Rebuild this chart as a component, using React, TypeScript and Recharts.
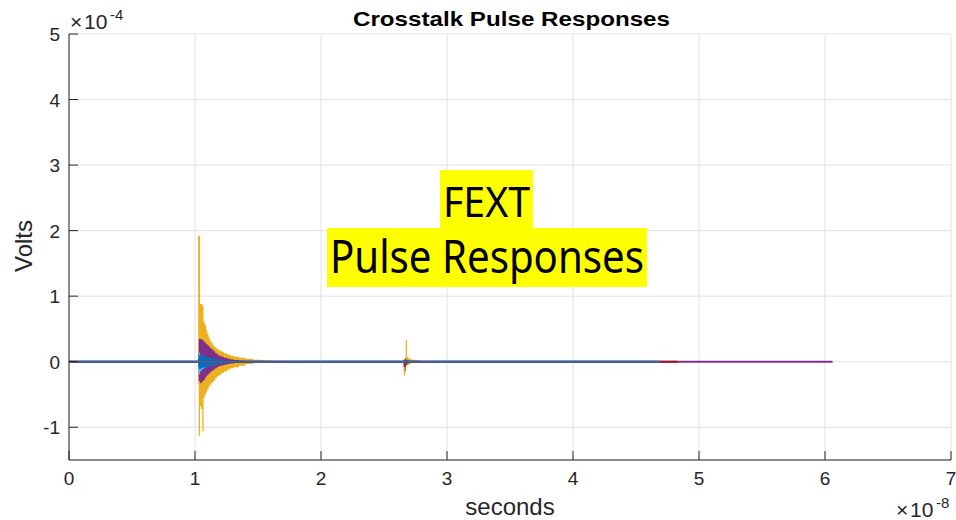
import React from 'react'
import { ComposedChart, Area, Line, XAxis, YAxis, CartesianGrid } from 'recharts'

// time in units of 1e-8 s, volts in units of 1e-4 V
const xTicks = [0, 1, 2, 3, 4, 5, 6, 7]
const yTicks = [-1, 0, 1, 2, 3, 4, 5]

// first FEXT pulse (around 1.03e-8 s)
const pulse1Times = [1.02, 1.025, 1.03, 1.04, 1.048, 1.058, 1.068, 1.078, 1.088, 1.098, 1.108, 1.118, 1.13, 1.145, 1.16, 1.175, 1.19, 1.21, 1.23, 1.255, 1.28, 1.31, 1.35, 1.4, 1.46, 1.53, 1.62, 1.72]
const p1YellowHi = [0, 1.92, 1.92, 0.88, 0.88, 0.85, 0.6, 0.56, 0.48, 0.42, 0.37, 0.32, 0.28, 0.24, 0.21, 0.19, 0.17, 0.15, 0.13, 0.11, 0.09, 0.075, 0.06, 0.045, 0.03, 0.018, 0.008, 0]
const p1YellowLo = [0, -0.35, -1.13, -0.68, -0.72, -1.06, -0.55, -0.5, -0.46, -0.42, -0.38, -0.35, -0.32, -0.29, -0.25, -0.22, -0.2, -0.17, -0.15, -0.12, -0.1, -0.085, -0.06, -0.035, -0.02, -0.01, -0.004, 0]
const p1PurpleHi = [0, 0.12, 0.35, 0.35, 0.34, 0.33, 0.31, 0.29, 0.27, 0.25, 0.23, 0.21, 0.19, 0.16, 0.13, 0.11, 0.09, 0.075, 0.06, 0.045, 0.035, 0.025, 0.016, 0.01, 0.006, 0.003, 0, 0]
const p1PurpleLo = [0, -0.1, -0.3, -0.33, -0.32, -0.3, -0.28, -0.25, -0.22, -0.2, -0.18, -0.16, -0.14, -0.12, -0.1, -0.08, -0.065, -0.055, -0.045, -0.035, -0.026, -0.018, -0.012, -0.007, -0.004, -0.002, 0, 0]
const p1CyanHi = [0, 0.08, 0.14, 0.1, 0.09, 0.08, 0.07, 0.065, 0.06, 0.055, 0.05, 0.045, 0.04, 0.035, 0.03, 0.025, 0.02, 0.016, 0.012, 0.009, 0.006, 0.004, 0.002, 0, 0, 0, 0, 0]
const p1CyanLo = [0, -0.12, -0.19, -0.15, -0.13, -0.11, -0.1, -0.09, -0.08, -0.07, -0.065, -0.06, -0.05, -0.045, -0.04, -0.033, -0.027, -0.02, -0.015, -0.011, -0.008, -0.005, -0.003, 0, 0, 0, 0, 0]
const p1BlueHi = [0, 0.06, 0.1, 0.1, 0.09, 0.085, 0.08, 0.075, 0.07, 0.065, 0.06, 0.055, 0.05, 0.045, 0.04, 0.035, 0.03, 0.025, 0.02, 0.016, 0.012, 0.009, 0.006, 0.004, 0.002, 0, 0, 0]
const p1BlueLo = [0, -0.07, -0.11, -0.11, -0.1, -0.095, -0.09, -0.085, -0.08, -0.072, -0.065, -0.06, -0.055, -0.05, -0.044, -0.038, -0.032, -0.027, -0.022, -0.017, -0.013, -0.01, -0.007, -0.004, -0.002, 0, 0, 0]

// second, smaller pulse (around 2.67e-8 s)
const pulse2Times = [2.65, 2.656, 2.666, 2.672, 2.683, 2.695, 2.71, 2.73, 2.76, 2.8, 2.86, 2.95]
const p2YellowHi = [0, 0.03, 0.06, 0.33, 0.07, 0.045, 0.035, 0.025, 0.018, 0.01, 0.005, 0]
const p2YellowLo = [0, -0.21, -0.1, -0.06, -0.06, -0.035, -0.025, -0.018, -0.012, -0.008, -0.003, 0]
const p2RedHi = [0, 0.02, 0.04, 0.03, 0.02, 0.015, 0.01, 0.008, 0.006, 0.004, 0, 0]
const p2RedLo = [0, -0.08, -0.15, -0.05, -0.03, -0.015, -0.01, -0.008, -0.006, -0.004, 0, 0]
const p2PurpleHi = [0, 0.03, 0.05, 0.03, 0.015, 0.01, 0.006, 0.004, 0, 0, 0, 0]
const p2PurpleLo = [0, -0.05, -0.07, -0.04, -0.02, -0.01, -0.006, -0.004, 0, 0, 0, 0]
const p2BlueHi = [0, 0.02, 0.03, 0.02, 0.015, 0.01, 0.006, 0, 0, 0, 0, 0]
const p2BlueLo = [0, -0.02, -0.03, -0.02, -0.015, -0.01, -0.006, 0, 0, 0, 0, 0]

// where the flat traces stop
const blueEnd = 4.69
const redEnd = 4.83
const purpleEnd = 6.06

const COLORS: Record<string, string> = {
  yellow: '#EDB120',
  red: '#A2142F',
  purple: '#7E2F8E',
  cyan: '#4DBEEE',
  blue: '#0072BD',
}
const KEYS = ['yellow', 'red', 'purple', 'cyan', 'blue']
const AXIS = '#262626'
const FONT = '"Liberation Sans", Arial, Helvetica, sans-serif'
const NOTE_FONT = '"Noto Sans", "Open Sans", sans-serif'

function pulseRows(times: number[], sets: Record<string, [number[], number[]]>) {
  return times.map((t, i) => {
    const row: any = { t }
    for (const k of KEYS) {
      const s = sets[k]
      row[k] = s ? [s[1][i], s[0][i]] : [0, 0]
    }
    return row
  })
}

const flat = (t: number) => {
  const row: any = { t }
  for (const k of KEYS) row[k] = [0, 0]
  return row
}

const data = [
  flat(0),
  ...pulseRows(pulse1Times, {
    yellow: [p1YellowHi, p1YellowLo],
    purple: [p1PurpleHi, p1PurpleLo],
    cyan: [p1CyanHi, p1CyanLo],
    blue: [p1BlueHi, p1BlueLo],
  }),
  ...pulseRows(pulse2Times, {
    yellow: [p2YellowHi, p2YellowLo],
    red: [p2RedHi, p2RedLo],
    purple: [p2PurpleHi, p2PurpleLo],
    blue: [p2BlueHi, p2BlueLo],
  }),
  flat(blueEnd),
  flat(redEnd),
  flat(purpleEnd),
].map((r) => ({
  ...r,
  zBlue: r.t <= blueEnd ? 0 : null,
  zRed: r.t <= redEnd ? 0 : null,
  zPurple: r.t <= purpleEnd ? 0 : null,
}))

function YTick({ x, y, payload }: any) {
  return (
    <g>
      <line x1={x} x2={x + 9} y1={y} y2={y} stroke={AXIS} />
      <text x={x - 9} y={y + 7} textAnchor="end" fontSize={19} fill={AXIS} fontFamily={FONT}>
        {String(payload.value)}
      </text>
    </g>
  )
}

function XTick({ x, y, payload }: any) {
  return (
    <g>
      <line x1={x} x2={x} y1={y} y2={y - 9} stroke={AXIS} />
      <text x={x} y={y + 25} textAnchor="middle" fontSize={19} fill={AXIS} fontFamily={FONT}>
        {String(payload.value)}
      </text>
    </g>
  )
}

export default function App() {
  return (
    <div style={{ position: 'absolute', left: 0, top: 0, width: 956, height: 520, background: '#fff' }}>
      <ComposedChart width={956} height={520} data={data} margin={{ top: 34, right: 5, bottom: 30, left: 0 }}>
        <CartesianGrid stroke="#e2e2e2" />
        <XAxis
          type="number"
          dataKey="t"
          domain={[0, 7]}
          ticks={xTicks}
          interval={0}
          allowDataOverflow
          height={30}
          tickSize={0}
          tickMargin={0}
          tickLine={false}
          axisLine={{ stroke: AXIS }}
          tick={<XTick />}
        />
        <YAxis
          type="number"
          domain={[-1.5, 5]}
          ticks={yTicks}
          interval={0}
          allowDataOverflow
          width={69}
          tickSize={0}
          tickMargin={0}
          tickLine={false}
          axisLine={{ stroke: AXIS }}
          tick={<YTick />}
        />
        {KEYS.map((k) => (
          <Area
            key={k}
            dataKey={k}
            type="stepAfter"
            stroke="none"
            fill={COLORS[k]}
            fillOpacity={1}
            isAnimationActive={false}
            dot={false}
            activeDot={false}
          />
        ))}
        <Line dataKey="zPurple" stroke={COLORS.purple} strokeWidth={2} dot={false} isAnimationActive={false} />
        <Line dataKey="zRed" stroke={COLORS.red} strokeWidth={2} dot={false} isAnimationActive={false} />
        <Line dataKey="zBlue" stroke="#2b6ca3" strokeWidth={2} dot={false} isAnimationActive={false} />
      </ComposedChart>
      <svg width={956} height={520} style={{ position: 'absolute', left: 0, top: 0, pointerEvents: 'none' }}>
        <text x={353} y={26} fontSize={21} fontWeight="bold" fill="#000" fontFamily={FONT} textLength={317} lengthAdjust="spacingAndGlyphs">
          Crosstalk Pulse Responses
        </text>
        <text fontSize={21} fill={AXIS} fontFamily={FONT}>
          <tspan x={70} y={29}>×</tspan>
          <tspan x={84} y={29}>10</tspan>
          <tspan x={110} y={20} fontSize={15}>-4</tspan>
        </text>
        <text fontSize={21} fill={AXIS} fontFamily={FONT}>
          <tspan x={896} y={517}>×</tspan>
          <tspan x={910} y={517}>10</tspan>
          <tspan x={936} y={508} fontSize={15}>-8</tspan>
        </text>
        <text x={510} y={515} textAnchor="middle" fontSize={24} fill={AXIS} fontFamily={FONT}>
          seconds
        </text>
        <text transform="translate(32,246) rotate(-90)" textAnchor="middle" fontSize={24} fill={AXIS} fontFamily={FONT}>
          Volts
        </text>
        <rect x={440} y={170} width={93} height={58} fill="#ffff00" />
        <rect x={327} y={228} width={320} height={59} fill="#ffff00" />
        <text x={443} y={217} fontSize={42} fill="#000" fontFamily={NOTE_FONT} textLength={87} lengthAdjust="spacingAndGlyphs">
          FEXT
        </text>
        <text x={330} y={273} fontSize={45} fill="#000" fontFamily={NOTE_FONT} textLength={314} lengthAdjust="spacingAndGlyphs">
          Pulse Responses
        </text>
      </svg>
    </div>
  )
}
